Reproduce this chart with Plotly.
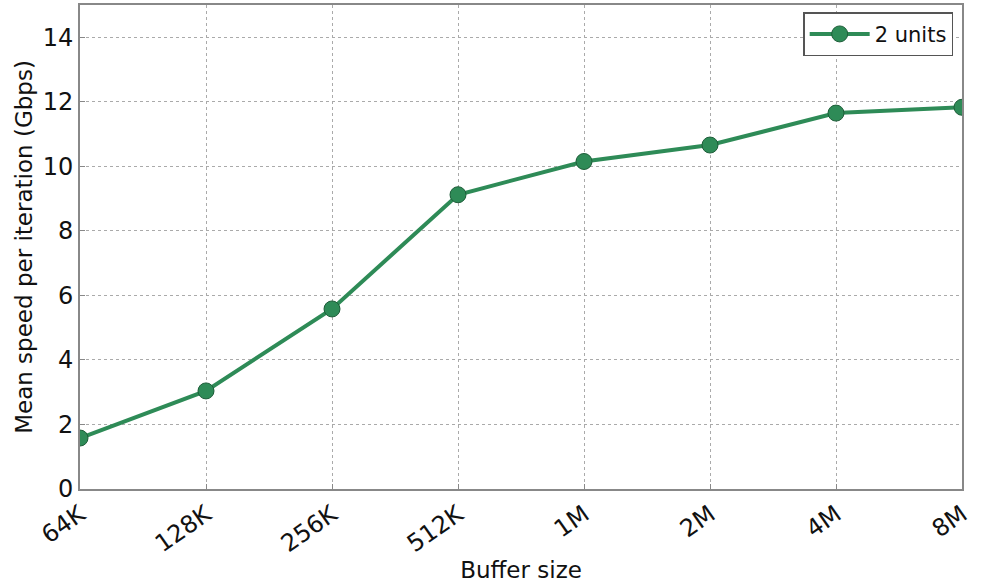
import plotly.graph_objects as go

buffer_sizes = ["64K", "128K", "256K", "512K", "1M", "2M", "4M", "8M"]
mean_speed = [1.58, 3.04, 5.58, 9.12, 10.15, 10.66, 11.65, 11.83]
speed_err = [0.05, 0.05, 0.06, 0.06, 0.05, 0.05, 0.05, 0.05]

green = "#2E8B57"
font = "DejaVu Sans"

fig = go.Figure()
fig.add_trace(go.Scatter(
    x=list(range(len(buffer_sizes))), y=mean_speed,
    mode="lines+markers", name="2 units",
    line=dict(color=green, width=4),
    marker=dict(color=green, size=16, line=dict(color="#1f5e3a", width=1)),
    error_y=dict(type="data", array=speed_err, color=green, thickness=2, width=8, visible=True),
))

fig.update_layout(
    width=983, height=583,
    margin=dict(l=80, r=21, t=5, b=94),
    paper_bgcolor="white", plot_bgcolor="white",
    font=dict(family=font, size=24, color="#111"),
    showlegend=True,
    legend=dict(x=0.99, y=0.985, xanchor="right", yanchor="top",
                bordercolor="#555", borderwidth=1.5, bgcolor="white",
                itemwidth=60, font=dict(size=21)),
    xaxis=dict(
        range=[0, 7], tickmode="array", tickvals=list(range(len(buffer_sizes))),
        ticktext=buffer_sizes, tickangle=-35,
        showgrid=True, gridcolor="#aaa", griddash="dot", gridwidth=1,
        showline=True, linecolor="#888", linewidth=2, mirror=True,
        ticks="inside", ticklen=5, tickcolor="#888",
        title=dict(text="Buffer size", font=dict(size=23), standoff=2),
        zeroline=False, automargin=False,
    ),
    yaxis=dict(
        range=[0, 15], tickmode="array", tickvals=[0, 2, 4, 6, 8, 10, 12, 14],
        showgrid=True, gridcolor="#aaa", griddash="dot", gridwidth=1,
        showline=True, linecolor="#888", linewidth=2, mirror=True,
        ticks="inside", ticklen=5, tickcolor="#888",
        title=dict(text="Mean speed per iteration (Gbps)", font=dict(size=23), standoff=4),
        zeroline=False, automargin=False,
    ),
)

fig.write_html("out.html", config={"displayModeBar": False},
               post_script="document.body.style.margin='0';document.body.style.overflow='hidden';")
